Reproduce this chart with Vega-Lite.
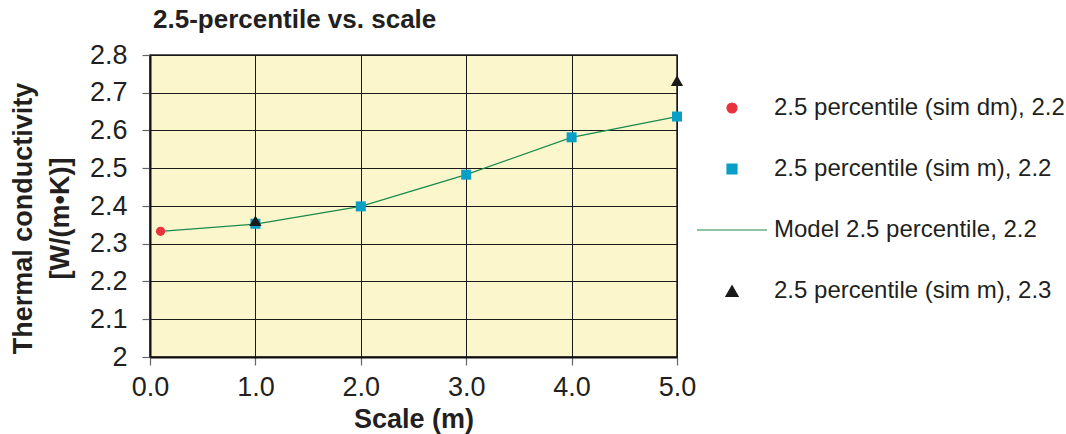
{
  "$schema": "https://vega.github.io/schema/vega-lite/v6.json",
  "autosize": {"type": "none"},
  "width": 527,
  "height": 302,
  "padding": {"left": 150, "top": 55, "right": 389, "bottom": 77},
  "background": "white",
  "title": {
    "text": "2.5-percentile vs. scale",
    "anchor": "start",
    "frame": "group",
    "font": "Liberation Sans",
    "fontSize": 26,
    "fontWeight": "bold",
    "color": "#231f20",
    "baseline": "alphabetic",
    "offset": 12,
    "dx": 3,
    "dy": 25
  },
  "config": {
    "font": "Liberation Sans",
    "view": {"fill": "#fcf6cd", "stroke": "#222222", "strokeWidth": 1.5},
    "axis": {
      "labelFont": "Liberation Sans",
      "labelFontSize": 27,
      "labelColor": "#231f20",
      "titleFont": "Liberation Sans",
      "titleFontSize": 27,
      "titleFontWeight": "bold",
      "titleColor": "#231f20",
      "gridColor": "#1a1a1a",
      "gridOpacity": 1,
      "gridWidth": 1,
      "tickColor": "#666666",
      "tickSize": 8,
      "tickWidth": 1.2,
      "domainColor": "#111111",
      "domainWidth": 2
    }
  },
  "data": {
    "values": [
      {"s": "Model 2.5 percentile, 2.2", "x": 0.1, "y": 2.333},
      {"s": "Model 2.5 percentile, 2.2", "x": 1, "y": 2.352},
      {"s": "Model 2.5 percentile, 2.2", "x": 2, "y": 2.399},
      {"s": "Model 2.5 percentile, 2.2", "x": 3, "y": 2.483},
      {"s": "Model 2.5 percentile, 2.2", "x": 4, "y": 2.582},
      {"s": "Model 2.5 percentile, 2.2", "x": 5, "y": 2.637},
      {"s": "2.5 percentile (sim dm), 2.2", "x": 0.1, "y": 2.333},
      {"s": "2.5 percentile (sim m), 2.2", "x": 1, "y": 2.353},
      {"s": "2.5 percentile (sim m), 2.2", "x": 2, "y": 2.399},
      {"s": "2.5 percentile (sim m), 2.2", "x": 3, "y": 2.483},
      {"s": "2.5 percentile (sim m), 2.2", "x": 4, "y": 2.582},
      {"s": "2.5 percentile (sim m), 2.2", "x": 5, "y": 2.637},
      {"s": "2.5 percentile (sim m), 2.3", "x": 1, "y": 2.361},
      {"s": "2.5 percentile (sim m), 2.3", "x": 5, "y": 2.732}
    ]
  },
  "encoding": {
    "x": {
      "field": "x",
      "type": "quantitative",
      "scale": {"domain": [0, 5], "nice": false, "zero": false},
      "axis": {
        "title": "Scale (m)",
        "values": [0, 1, 2, 3, 4, 5],
        "format": ".1f",
        "labelPadding": 9,
        "titleBaseline": "alphabetic",
        "titleY": 70,
        "labelFlush": false
      }
    },
    "y": {
      "field": "y",
      "type": "quantitative",
      "scale": {"domain": [2, 2.8], "nice": false, "zero": false},
      "axis": {
        "title": ["Thermal conductivity", "[W/(m•K)]"],
        "values": [2, 2.1, 2.2, 2.3, 2.4, 2.5, 2.6, 2.7, 2.8],
        "format": "~g",
        "labelPadding": 15,
        "titleAngle": -90,
        "titleAlign": "center",
        "titleBaseline": "top",
        "titleX": -140,
        "titleY": 163,
        "titleLineHeight": 37,
        "labelFlush": false
      }
    }
  },
  "layer": [
    {
      "transform": [{"filter": "datum.s === 'Model 2.5 percentile, 2.2'"}],
      "mark": {"type": "line", "color": "#1b8a4c", "strokeWidth": 1.3, "interpolate": "linear"}
    },
    {
      "transform": [{"filter": "datum.s === '2.5 percentile (sim dm), 2.2'"}],
      "mark": {"type": "point", "filled": true, "opacity": 1, "size": 85},
      "encoding": {
        "color": {
          "field": "s",
          "type": "nominal",
          "scale": {
            "domain": ["2.5 percentile (sim dm), 2.2", "2.5 percentile (sim m), 2.2", "Model 2.5 percentile, 2.2", "2.5 percentile (sim m), 2.3"],
            "range": ["#e8323c", "#0a9fc6", "#1b8a4c", "#1a1a1a"]
          },
          "legend": {
            "title": null,
            "orient": "none",
            "legendX": 570,
            "legendY": 41,
            "padding": 0,
            "symbolSize": 100,
            "symbolStrokeWidth": 1,
            "symbolOpacity": 1,
            "labelFont": "Liberation Sans",
            "labelFontSize": 24,
            "labelColor": "#231f20",
            "labelOffset": 30,
            "labelLimit": 400,
            "rowPadding": 37,
            "encode": {
              "symbols": {
                "update": {
                  "stroke": {"scale": "color", "field": "value"},
                  "strokeWidth": {"value": 1.2},
                  "size": {"signal": "datum.value === '2.5 percentile (sim m), 2.3' ? 150 : 100"}
                }
              }
            }
          }
        },
        "shape": {
          "field": "s",
          "type": "nominal",
          "scale": {
            "domain": ["2.5 percentile (sim dm), 2.2", "2.5 percentile (sim m), 2.2", "Model 2.5 percentile, 2.2", "2.5 percentile (sim m), 2.3"],
            "range": ["circle", "square", "M-7,0H7", "triangle-up"]
          }
        }
      }
    },
    {
      "transform": [{"filter": "datum.s === '2.5 percentile (sim m), 2.2'"}],
      "mark": {"type": "point", "filled": true, "opacity": 1, "size": 100},
      "encoding": {
        "color": {"field": "s", "type": "nominal"},
        "shape": {"field": "s", "type": "nominal"}
      }
    },
    {
      "transform": [{"filter": "datum.s === '2.5 percentile (sim m), 2.3'"}],
      "mark": {"type": "point", "filled": true, "opacity": 1, "size": 150},
      "encoding": {
        "color": {"field": "s", "type": "nominal"},
        "shape": {"field": "s", "type": "nominal"}
      }
    }
  ]
}
